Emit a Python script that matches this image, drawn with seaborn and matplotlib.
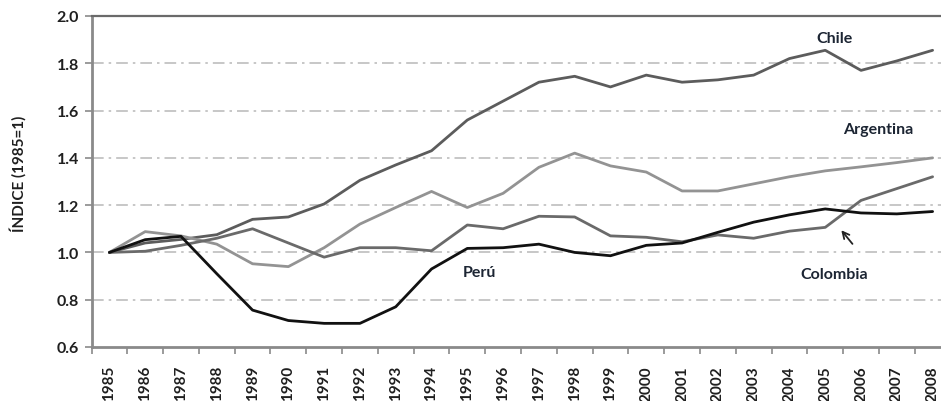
import matplotlib
matplotlib.use("Agg")
import matplotlib.pyplot as plt
import seaborn as sns
import pandas as pd

years = list(range(1985, 2009))

chile = [1.00, 1.04, 1.055, 1.075, 1.14, 1.15, 1.205, 1.305, 1.37, 1.43, 1.56, 1.64, 1.72, 1.745, 1.70, 1.75,
         1.72, 1.73, 1.75, 1.82, 1.855, 1.77, 1.81, 1.855]
argentina = [1.00, 1.088, 1.07, 1.035, 0.952, 0.94, 1.02, 1.12, 1.19, 1.258, 1.19, 1.25, 1.36, 1.42, 1.366, 1.34,
             1.26, 1.26, 1.29, 1.32, 1.345, 1.362, 1.38, 1.40]
colombia = [1.00, 1.005, 1.03, 1.06, 1.10, 1.04, 0.98, 1.02, 1.02, 1.007, 1.116, 1.10, 1.153, 1.15, 1.07, 1.064,
            1.045, 1.074, 1.06, 1.09, 1.106, 1.22, 1.27, 1.32]
peru = [1.00, 1.054, 1.068, 0.91, 0.756, 0.712, 0.70, 0.70, 0.77, 0.93, 1.017, 1.02, 1.035, 1.00, 0.986, 1.03,
        1.04, 1.085, 1.128, 1.159, 1.184, 1.167, 1.163, 1.173]

countries = ["Chile", "Argentina", "Colombia", "Perú"]

# grey-scale palette of the original
line_colors = {
    "Chile": "#5c5c5c",
    "Argentina": "#939393",
    "Colombia": "#6a6a6a",
    "Perú": "#111111",
}

df = pd.DataFrame({
    "year": years * 4,
    "value": chile + argentina + colombia + peru,
    "country": sum([[c] * len(years) for c in countries], []),
})

sns.set_theme(style="white")
plt.rcParams["font.family"] = ["Lato", "DejaVu Sans"]
plt.rcParams["font.weight"] = "bold"

fig = plt.figure(figsize=(9.41, 4.02), dpi=100)
ax = fig.add_axes([91.5 / 941, 1 - 348 / 402, 859 / 941, 331 / 402])

sns.lineplot(data=df, x="year", y="value", hue="country", palette=line_colors,
             linewidth=2.0, legend=False, ax=ax)

ax.set_xlim(1984.5, 2008.5)
ax.set_ylim(0.6, 2.0)
ax.set_yticks([0.6, 0.8, 1.0, 1.2, 1.4, 1.6, 1.8, 2.0])
ax.set_yticklabels([f"{v:.1f}" for v in ax.get_yticks()], fontsize=11.5, fontweight="bold", color="#1f1f1f")
ax.set_xticks(years)
ax.set_xticklabels([str(y) for y in years], rotation=90, fontsize=11, fontweight="bold", color="#1f1f1f")
ax.set_xticks([y + 0.5 for y in [1984] + years], minor=True)
ax.tick_params(axis="x", which="major", length=0, pad=13)
ax.tick_params(axis="x", which="minor", length=5, width=1.2, color="#8a8a8a", direction="out")
ax.tick_params(axis="y", length=5, width=1.2, color="#8a8a8a", direction="out", pad=4)
ax.xaxis.set_ticks_position("bottom")
ax.yaxis.set_ticks_position("left")

for v in [0.8, 1.0, 1.2, 1.4, 1.6, 1.8]:
    ax.axhline(v, color="#bdbdbd", linestyle=(0, (7, 3, 1.5, 3)), linewidth=1.2, zorder=0)

for side in ["left", "bottom"]:
    ax.spines[side].set_color("#8a8a8a")
    ax.spines[side].set_linewidth(2.0)
ax.spines["top"].set_color("#6a6a6a")
ax.spines["top"].set_linewidth(1.6)
ax.spines["right"].set_visible(False)

ax.set_xlabel("")
ax.set_ylabel("ÍNDICE (1985=1)", fontsize=11, fontweight="bold", color="#1f1f1f")
ax.yaxis.set_label_coords(-0.076, 0.526)

txt = dict(fontsize=11.5, fontweight="bold", color="#1c2533", ha="center", va="center")
ax.text(2005.26, 1.908, "Chile", **txt)
ax.text(2006.48, 1.52, "Argentina", **txt)
ax.text(1995.34, 0.916, "Perú", **txt)
ax.text(2005.26, 0.908, "Colombia", **txt)
ax.annotate("", xy=(2005.40, 1.103), xytext=(2005.81, 1.027),
            arrowprops=dict(arrowstyle="->", color="#222222", lw=1.3))

fig.savefig("out.png", dpi=100)
